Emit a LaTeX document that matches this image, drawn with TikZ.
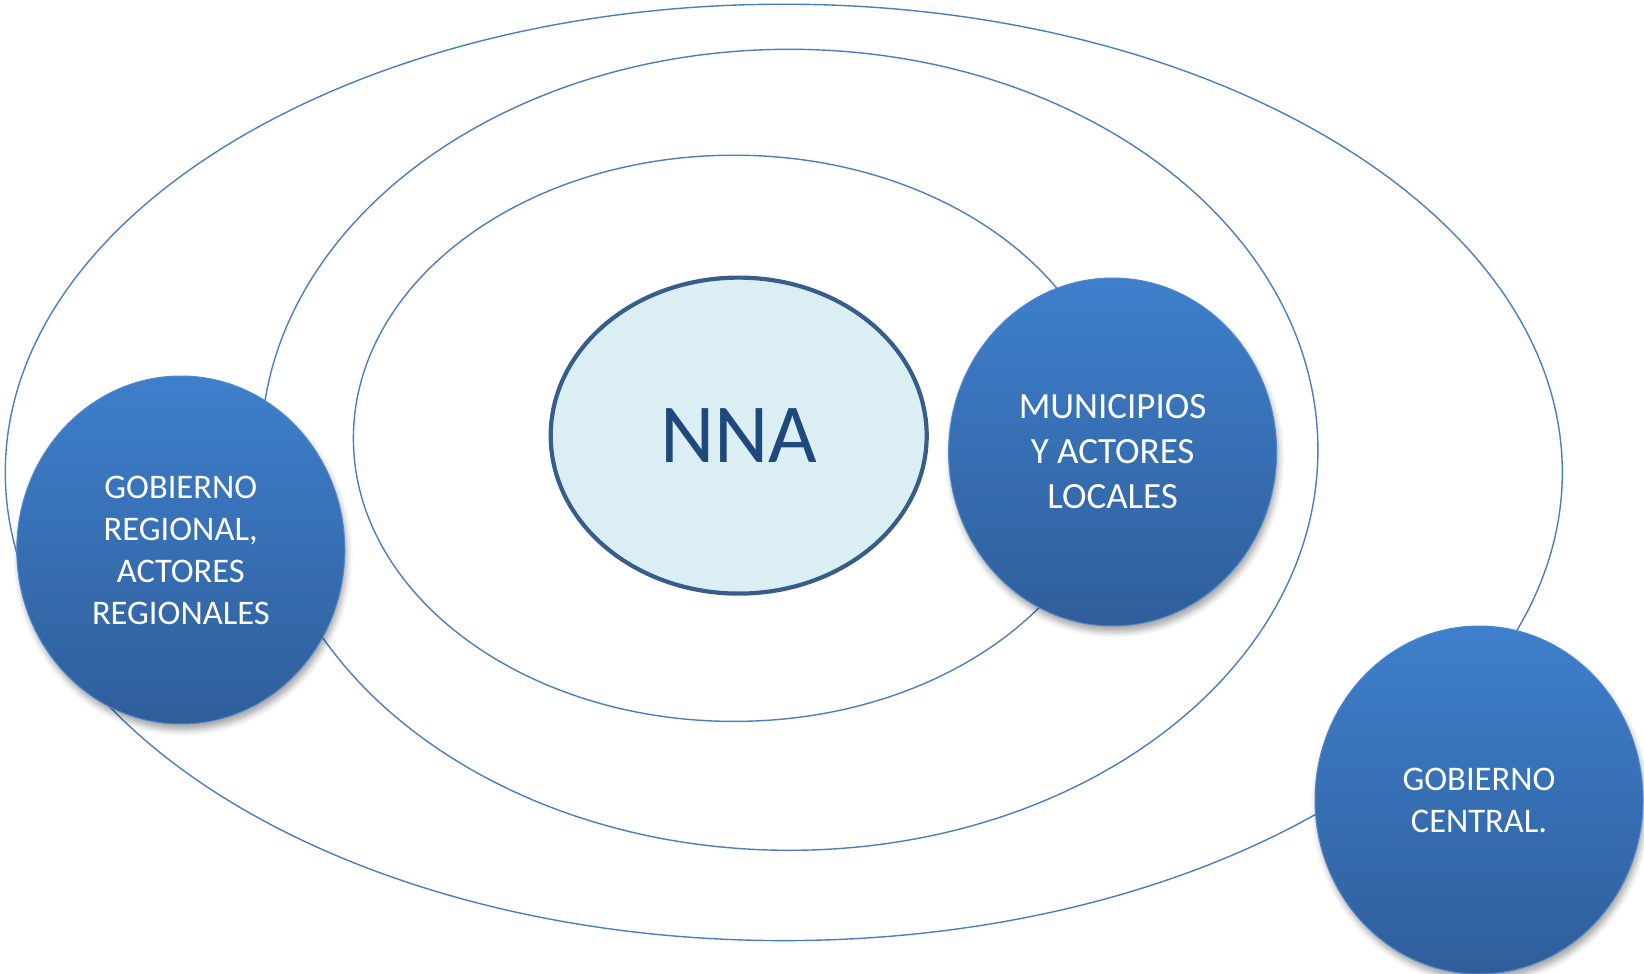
\documentclass[tikz,border=0pt]{standalone}
\usepackage{fontspec}
\setmainfont{Carlito}
\usetikzlibrary{shapes.geometric,shadows.blur}
\definecolor{ringblue}{RGB}{74,126,192}
\definecolor{nnafill}{RGB}{219,238,244}
\definecolor{nnaline}{RGB}{56,93,138}
\definecolor{nnatext}{RGB}{31,73,125}
\definecolor{ballTop}{RGB}{62,127,203}
\definecolor{ballBot}{RGB}{47,94,155}
\definecolor{ballLine}{RGB}{80,136,205}
\tikzset{
  ring/.style={draw=ringblue, line width=1.4pt},
  ball/.style={ellipse, inner sep=0pt, minimum width=328pt, minimum height=348pt,
    top color=ballTop, bottom color=ballBot, draw=ballLine, line width=1pt,
    text=white, align=center,
    blur shadow={shadow xshift=2pt, shadow yshift=-6pt, shadow opacity=35, shadow blur radius=6pt}},
  balltext/.style={font=\fontsize{34.5}{42}\selectfont},
}
\begin{document}
\begin{tikzpicture}[x=1pt,y=-1pt]
\useasboundingbox (0,0) rectangle (1644,974);
% rings
\draw[ring] (783.8,472.4) ellipse [x radius=778.5, y radius=468.2];
\draw[ring] (789.5,449.8) ellipse [x radius=528.4, y radius=400.5];
\draw[ring] (734,438.3) ellipse [x radius=380.6, y radius=283.1];
% centre
\node[ellipse, draw=nnaline, line width=4.2pt, fill=nnafill, inner sep=0pt,
      minimum width=376pt, minimum height=316pt, text=nnatext,
      font=\fontsize{84}{90}\selectfont] (nna) at (738.7,435.6) {NNA};
% balls
\node[ball, balltext, font=\fontsize{37}{45}\selectfont] (mun) at (1112.6,452) {MUNICIPIOS\\Y ACTORES\\LOCALES};
\node[ball, balltext] (reg) at (180.8,550) {GOBIERNO\\REGIONAL,\\ACTORES\\REGIONALES};
\node[ball, balltext] (cen) at (1479,800) {GOBIERNO\\CENTRAL.};
\end{tikzpicture}
\end{document}
